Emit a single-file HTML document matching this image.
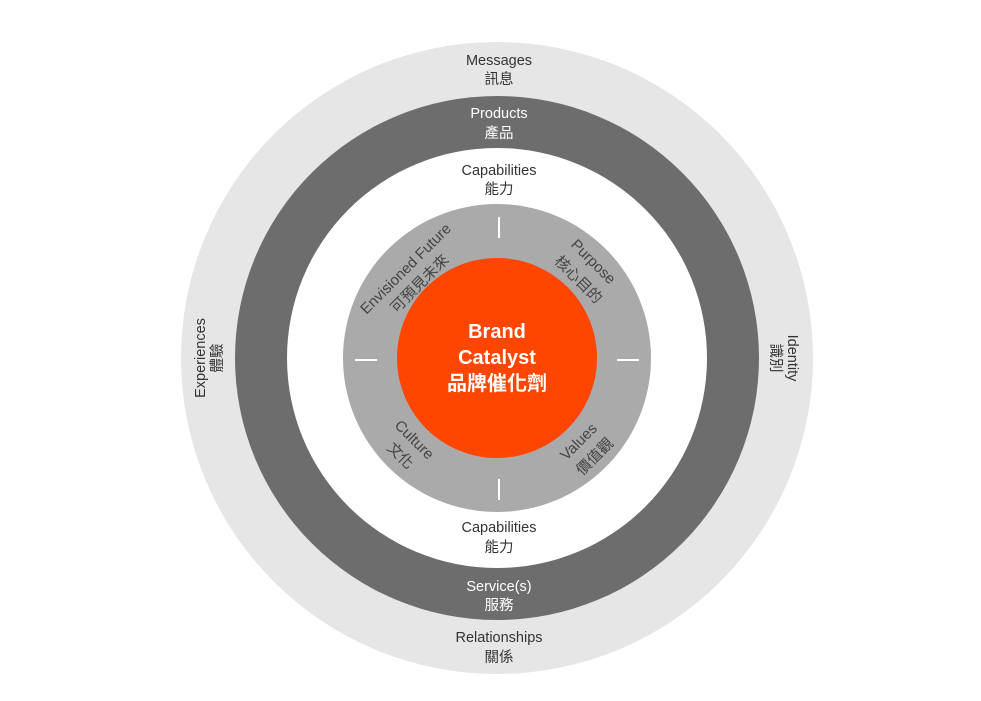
<!DOCTYPE html>
<html><head><meta charset="utf-8"><style>
html,body{margin:0;padding:0;background:#fff;width:981px;height:701px;overflow:hidden}
text{font-family:"Liberation Sans","Noto Sans CJK TC",sans-serif;}
</style></head><body>
<svg width="981" height="701" viewBox="0 0 981 701" xmlns="http://www.w3.org/2000/svg">
<circle cx="497" cy="358" r="316" fill="#e6e6e6"/>
<circle cx="497" cy="358" r="262" fill="#6d6d6d"/>
<circle cx="497" cy="358" r="210" fill="#ffffff"/>
<circle cx="497" cy="358" r="154" fill="#aaaaaa"/>
<circle cx="497" cy="358" r="100" fill="#fe4600"/>
<g stroke="#fff" stroke-width="2">
<line x1="499" y1="217" x2="499" y2="238"/>
<line x1="499" y1="479" x2="499" y2="500"/>
<line x1="355" y1="360" x2="377" y2="360"/>
<line x1="617" y1="360" x2="639" y2="360"/>
</g>
<g font-size="14.5" text-anchor="middle" dominant-baseline="central" fill="#333">
<text x="499" y="61">Messages</text><text x="499" y="80">訊息</text>
<text x="499" y="171">Capabilities</text><text x="499" y="190">能力</text>
<text x="499" y="528">Capabilities</text><text x="499" y="548">能力</text>
<text x="499" y="638">Relationships</text><text x="499" y="658">關係</text>
<text transform="translate(201,358) rotate(-90)">Experiences</text>
<text transform="translate(218,358) rotate(-90)">體驗</text>
<text transform="translate(792,358) rotate(90)">Identity</text>
<text transform="translate(775,358) rotate(90)">識別</text>
</g>
<g font-size="14.5" text-anchor="middle" dominant-baseline="central" fill="#fff">
<text x="499" y="114">Products</text><text x="499" y="134">產品</text>
<text x="499" y="587">Service(s)</text><text x="499" y="606">服務</text>
</g>
<g font-size="15" text-anchor="middle" dominant-baseline="central" fill="#444">
<text transform="translate(406,269) rotate(-45)">Envisioned Future</text>
<text transform="translate(420,284) rotate(-45)">可預見未來</text>
<text transform="translate(593,262) rotate(45)">Purpose</text>
<text transform="translate(578,280) rotate(45)">核心目的</text>
<text transform="translate(414,440) rotate(45)">Culture</text>
<text transform="translate(400,456) rotate(45)">文化</text>
<text transform="translate(579,442) rotate(-45)">Values</text>
<text transform="translate(595,457) rotate(-45)">價值觀</text>
</g>
<g font-size="20" font-weight="bold" text-anchor="middle" dominant-baseline="central" fill="#fff">
<text x="497" y="332">Brand</text>
<text x="497" y="358">Catalyst</text>
<text x="497" y="384">品牌催化劑</text>
</g>
</svg>
</body></html>
